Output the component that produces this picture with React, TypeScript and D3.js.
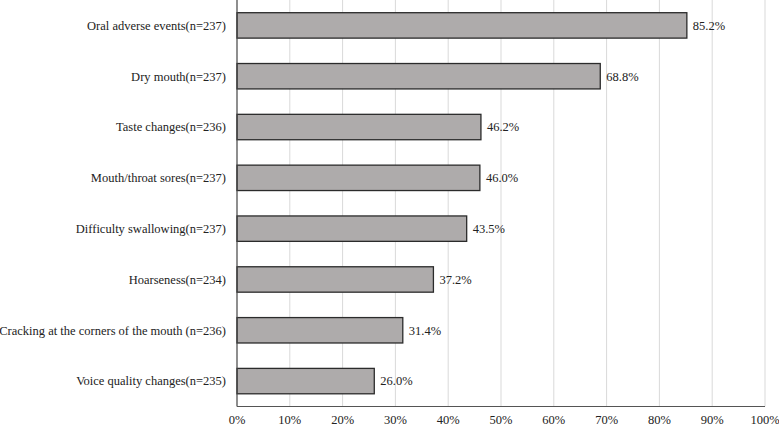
import React, { useEffect, useRef } from 'react';
import * as d3 from 'd3';

const categories = [
  'Oral adverse events(n=237)',
  'Dry mouth(n=237)',
  'Taste changes(n=236)',
  'Mouth/throat sores(n=237)',
  'Difficulty swallowing(n=237)',
  'Hoarseness(n=234)',
  'Cracking at the corners of the mouth (n=236)',
  'Voice quality changes(n=235)',
];
const values = [85.2, 68.8, 46.2, 46.0, 43.5, 37.2, 31.4, 26.0];
const ticks = [0, 10, 20, 30, 40, 50, 60, 70, 80, 90, 100];

const width = 779;
const height = 428;

export default function App() {
  const ref = useRef<SVGSVGElement>(null);

  useEffect(() => {
    document.body.style.margin = '0';
    const svg = d3.select(ref.current);
    svg.selectAll('*').remove();

    const left = 237, right = 765, top = 0, bottom = 406.5;
    const font = 'Liberation Serif, Times New Roman, serif';

    const x = d3.scaleLinear().domain([0, 100]).range([left, right]);
    const y = d3.scaleBand().domain(categories).range([top, bottom]).paddingInner(0.5).paddingOuter(0.25);

    // gridlines
    svg.append('g')
      .selectAll('line')
      .data(ticks.slice(1))
      .enter()
      .append('line')
      .attr('x1', d => x(d)).attr('x2', d => x(d))
      .attr('y1', top).attr('y2', bottom)
      .attr('stroke', '#d9d9d9')
      .attr('stroke-width', 1);

    // bars
    const data = categories.map((c, i) => ({ c, v: values[i] }));
    svg.append('g')
      .selectAll('rect')
      .data(data)
      .enter()
      .append('rect')
      .attr('x', x(0))
      .attr('y', d => y(d.c)!)
      .attr('width', d => x(d.v) - x(0))
      .attr('height', y.bandwidth())
      .attr('fill', '#aeabab')
      .attr('stroke', '#2b2b2b')
      .attr('stroke-width', 1.3);

    const txt = svg.append('g').style('font-family', font).style('font-size', '12.5px').attr('fill', '#222');

    // value labels
    txt.append('g')
      .selectAll('text')
      .data(data)
      .enter()
      .append('text')
      .attr('x', d => x(d.v) + 6)
      .attr('y', d => y(d.c)! + y.bandwidth() / 2)
      .attr('dy', '0.35em')
      .text(d => d.v.toFixed(1) + '%');

    // category labels
    txt.append('g')
      .selectAll('text')
      .data(categories)
      .enter()
      .append('text')
      .attr('x', 226)
      .attr('y', d => y(d)! + y.bandwidth() / 2)
      .attr('dy', '0.35em')
      .attr('text-anchor', 'end')
      .text(d => d);

    // axes lines
    svg.append('line')
      .attr('x1', left).attr('x2', left)
      .attr('y1', top).attr('y2', bottom)
      .attr('stroke', '#444').attr('stroke-width', 1.2);
    svg.append('line')
      .attr('x1', left).attr('x2', right)
      .attr('y1', bottom).attr('y2', bottom)
      .attr('stroke', '#555').attr('stroke-width', 1);

    // tick labels
    txt.append('g')
      .selectAll('text')
      .data(ticks)
      .enter()
      .append('text')
      .attr('x', d => x(d))
      .attr('y', 420)
      .attr('dy', '0.35em')
      .attr('text-anchor', 'middle')
      .text(d => d + '%');
  }, []);

  return <svg ref={ref} width={width} height={height} style={{ display: 'block', background: '#fff' }} />;
}
